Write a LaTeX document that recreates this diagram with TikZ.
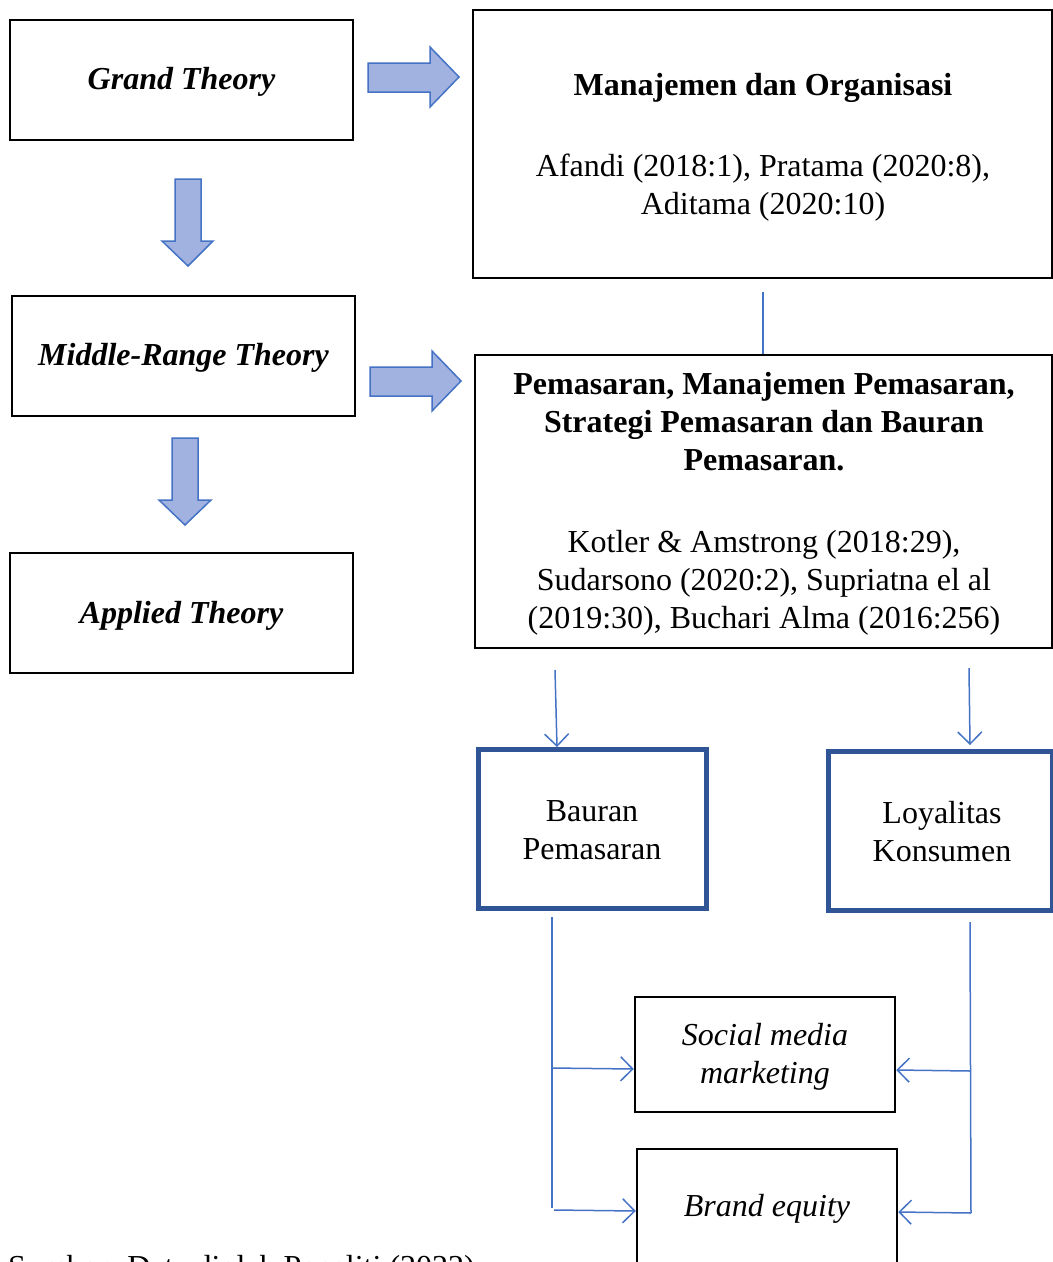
\documentclass[tikz,border=0pt]{standalone}
\usepackage{fontspec}
\setmainfont{Liberation Serif}
\usetikzlibrary{arrows.meta}
\definecolor{conn}{RGB}{68,114,196}
\definecolor{blockfill}{RGB}{162,178,224}
\definecolor{thickblue}{RGB}{47,85,151}
\tikzset{
  box/.style={draw=black, line width=2.5pt, inner sep=0pt},
  bluebox/.style={draw=thickblue, line width=5pt, inner sep=0pt},
  txt/.style={align=center, inner sep=0pt, font=\fontsize{32}{38}\selectfont},
  titletxt/.style={txt, font=\fontsize{32}{38}\selectfont\bfseries\itshape},
  blockarrow/.style={fill=blockfill, draw=conn, line width=1.5pt, line join=miter},
  conline/.style={draw=conn, line width=1.5pt},
  conarrow/.style={draw=conn, line width=1.5pt, -{Straight Barb[length=12pt,width=24pt,line width=1.5pt]}},
}
\begin{document}
\begin{tikzpicture}[x=1pt,y=-1pt]
\useasboundingbox (0,0) rectangle (1053,1262);
% left column
\node[box, minimum width=343pt, minimum height=120pt] (grand) at (181.5,80) {};
\node[titletxt] (grandt) at (181.5,82) {Grand Theory};
\node[box, minimum width=343pt, minimum height=120pt] (middle) at (183.5,356) {};
\node[titletxt] (middlet) at (183.5,358) {Middle-Range Theory};
\node[box, minimum width=343pt, minimum height=120pt] (applied) at (181.5,613) {};
\node[titletxt] (appliedt) at (181.5,616) {Applied Theory};
% block arrows
\path[blockarrow] (368,63) -- (430,63) -- (430,47) -- (459,77) -- (430,107) -- (430,92) -- (368,92) -- cycle;
\path[blockarrow] (370,367) -- (432,367) -- (432,351) -- (461,381) -- (432,411) -- (432,396) -- (370,396) -- cycle;
\path[blockarrow] (175,179) -- (201,179) -- (201,241) -- (213,241) -- (188,266) -- (162,241) -- (175,241) -- cycle;
\path[blockarrow] (172,438) -- (198,438) -- (198,500) -- (211,500) -- (185,525) -- (159,500) -- (172,500) -- cycle;
% right column
\node[box, minimum width=579pt, minimum height=268pt] (mo) at (762.5,144) {};
\node[txt] (mot) at (763,147)
  {\textbf{Manajemen dan Organisasi}\\[43pt]Afandi (2018:1), Pratama (2020:8),\\Aditama (2020:10)};
\node[box, minimum width=577pt, minimum height=293pt] (pm) at (763.5,501.5) {};
\node[txt] (pmt) at (764,504)
  {\textbf{Pemasaran, Manajemen Pemasaran,}\\\textbf{Strategi Pemasaran dan Bauran}\\\textbf{Pemasaran.}\\[44pt]Kotler \& Amstrong (2018:29),\\Sudarsono (2020:2), Supriatna el al\\(2019:30), Buchari Alma (2016:256)};
\node[bluebox, minimum width=228pt, minimum height=159pt] (bp) at (592,828.5) {};
\node[txt] (bpt) at (592,830) {Bauran\\Pemasaran};
\node[bluebox, minimum width=224pt, minimum height=159pt] (lk) at (940,830.5) {};
\node[txt] (lkt) at (942,832) {Loyalitas\\Konsumen};
\node[box, minimum width=260pt, minimum height=115pt] (smm) at (765,1054.5) {};
\node[txt, font=\fontsize{32}{38}\selectfont\itshape] (smmt) at (765,1057) {Social media\\marketing};
\node[box, minimum width=260pt, minimum height=160pt] (be) at (767,1229) {};
\node[txt, font=\fontsize{32}{38}\selectfont\itshape] (bet) at (767,1209) {Brand equity};
\node[anchor=base west, font=\fontsize{32}{38}\selectfont, inner sep=0pt] (src) at (8,1277) {Sumber: Data diolah Peneliti (2022)};
% connectors
\coordinate (c1) at (763,292);
\draw[conline] (c1) -- (pm.north -| c1);
\coordinate (a1) at (555,670);
\coordinate (a1e) at (557,747);
\draw[conarrow] (a1) -- (a1e);
\coordinate (a2) at (969,668);
\coordinate (a2e) at (970,745);
\draw[conarrow] (a2) -- (a2e);
\coordinate (l1) at (552,917);
\coordinate (l2) at (552,1208);
\draw[conline] (l1) -- (l2);
\coordinate (l3) at (552,1068);
\draw[conarrow] (l3) -- (smm.west |- 0,1069);
\coordinate (l4) at (554,1210);
\draw[conarrow] (l4) -- (be.west |- 0,1211);
\coordinate (r1) at (970,922);
\coordinate (r2) at (971,1213);
\draw[conline] (r1) -- (r2);
\coordinate (r3) at (970,1071);
\draw[conarrow] (r3) -- (smm.east |- 0,1070);
\draw[conarrow] (r2) -- (be.east |- 0,1212);
\end{tikzpicture}
\end{document}
